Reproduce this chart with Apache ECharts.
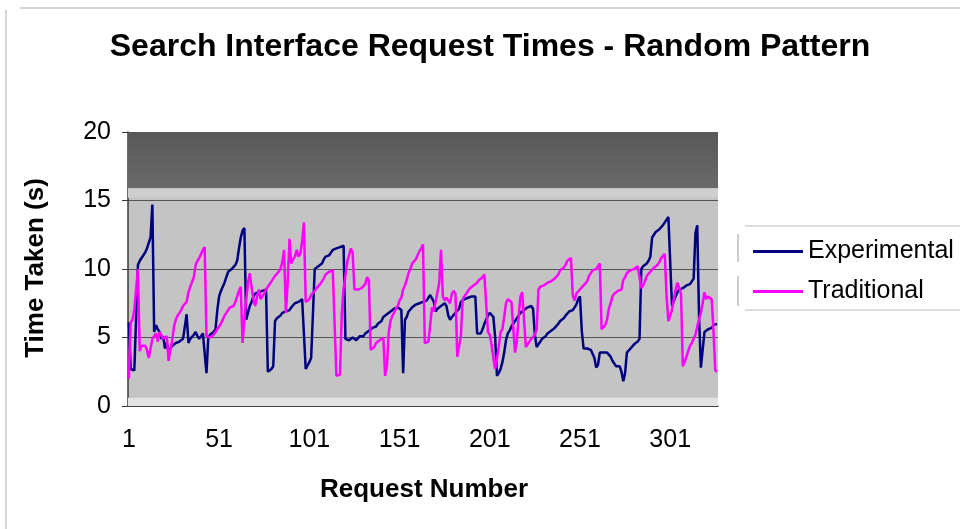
<!DOCTYPE html>
<html>
<head>
<meta charset="utf-8">
<script src="https://cdn.jsdelivr.net/npm/echarts@6/dist/echarts.min.js"></script>
<style>
html,body{margin:0;padding:0;background:#fff;}
#chart{width:960px;height:529px;}
</style>
</head>
<body>
<div id="chart"></div>
<script>
// Experimental request times (s), request 1..327
const experimental = [
6.1,2.7,2.6,2.6,2.7,10.3,10.6,10.8,11.0,11.2,
11.5,11.9,12.3,14.7,5.4,5.9,5.6,5.4,4.9,5.1,
4.2,4.6,3.9,4.2,4.4,4.5,4.6,4.7,4.7,4.8,
4.9,5.0,6.7,4.6,4.9,5.0,5.2,5.4,5.1,4.9,
5.1,5.3,5.4,2.4,5.0,5.2,5.3,5.4,5.6,7.0,
8.0,8.4,8.7,9.0,9.4,9.8,9.9,10.0,10.1,10.3,
10.6,11.5,12.3,12.8,13.0,6.3,6.8,7.3,7.6,8.0,
8.2,8.3,8.3,8.4,8.4,8.5,8.5,2.5,2.5,2.7,
2.9,6.2,6.4,6.5,6.6,6.8,6.9,6.9,7.0,7.0,
7.2,7.3,7.5,7.5,7.6,7.6,7.8,7.8,2.7,2.7,
3.2,3.5,3.6,10.0,10.1,10.2,10.3,10.4,10.7,10.9,
11.0,11.0,11.2,11.4,11.4,11.5,11.5,11.6,11.6,11.7,
4.9,4.8,4.8,4.9,5.0,5.1,4.8,4.9,5.1,5.1,
5.1,5.3,5.4,5.5,5.6,5.7,5.8,5.8,6.0,6.1,
6.2,6.5,6.6,6.7,6.8,6.9,7.0,7.1,7.2,7.2,
7.1,7.0,2.4,6.3,6.5,6.9,7.0,7.2,7.3,7.4,
7.5,7.5,7.6,7.6,7.7,7.7,7.9,8.1,8.2,7.6,
6.9,7.1,7.2,7.3,7.4,7.5,7.3,6.6,6.3,6.5,
6.6,6.8,6.9,7.1,7.6,7.7,7.8,7.9,7.9,8.0,
8.0,8.0,8.0,5.3,5.2,5.3,5.6,6.0,6.3,6.6,
6.8,6.7,6.5,5.0,2.2,2.4,2.7,3.2,3.9,4.8,
5.3,5.5,5.8,6.0,6.2,6.4,6.6,6.8,6.9,7.0,
7.1,7.2,7.2,7.3,7.1,5.2,4.3,4.4,4.7,4.9,
5.0,5.1,5.3,5.4,5.5,5.6,5.7,5.8,6.0,6.2,
6.3,6.4,6.6,6.7,6.9,6.9,7.0,7.1,7.4,7.8,
8.0,5.5,4.2,4.1,4.2,4.3,4.1,4.1,3.5,2.8,
3.0,3.9,3.8,3.9,3.9,3.9,3.8,3.6,3.3,3.4,
2.9,2.9,2.9,2.5,1.8,2.4,3.9,4.0,4.2,4.3,
4.5,4.6,4.7,4.9,10.0,10.2,10.3,10.4,10.6,10.9,
12.3,12.5,12.7,12.8,12.9,13.0,13.2,13.3,13.6,13.8,
13.9,7.3,7.4,8.0,8.3,8.5,8.6,8.6,8.7,8.8,
8.8,8.9,9.0,9.3,12.6,13.2,6.5,2.8,2.8,5.4,
5.5,5.6,5.7,5.7,5.9,6.0,6.0
];
// Traditional request times (s), request 1..327
const traditional = [
2.0,6.1,6.3,7.0,8.5,10.0,4.0,4.4,4.3,4.4,
4.1,3.5,4.2,4.9,5.1,5.3,4.7,5.4,5.5,4.9,
5.0,5.1,3.3,3.4,4.8,5.8,6.3,6.6,6.8,7.0,
7.3,7.4,7.6,8.3,8.7,8.8,9.4,10.3,10.6,10.8,
11.1,11.4,11.6,5.1,5.1,5.0,5.1,5.2,5.3,5.6,
5.8,6.0,6.3,6.6,6.8,7.0,7.2,7.3,7.3,7.6,
8.0,8.4,8.7,4.6,6.3,7.7,9.0,9.7,8.7,7.8,
7.3,8.0,8.5,7.8,8.0,8.2,8.5,8.7,8.9,9.1,
9.3,9.5,9.6,9.8,10.0,10.5,11.4,6.8,9.0,12.2,
10.4,10.7,10.9,11.4,10.9,11.1,12.0,13.4,7.6,7.7,
7.8,8.1,8.2,8.4,8.6,8.7,8.9,9.1,9.3,9.6,
9.7,9.8,9.9,9.9,10.0,2.2,2.2,2.3,6.8,8.6,
9.5,10.5,11.0,11.5,11.2,8.5,8.5,8.5,8.5,8.6,
8.6,8.9,9.4,9.2,4.1,4.1,4.3,4.6,4.7,4.8,
4.9,5.0,2.2,2.9,5.4,6.2,6.6,6.8,7.1,7.3,
7.7,7.9,8.5,8.8,9.2,9.7,10.0,10.4,10.5,10.7,
11.0,11.3,11.5,11.8,4.6,4.6,4.7,5.9,7.2,6.9,
7.6,8.3,9.0,11.4,8.0,7.7,7.9,7.7,7.5,8.2,
8.4,8.2,3.6,3.5,5.1,7.8,8.0,8.2,8.4,8.6,
8.7,8.8,8.9,9.0,9.2,9.3,9.4,9.6,9.7,5.4,
5.2,4.5,3.5,2.7,2.8,4.3,5.4,5.6,6.5,7.5,
7.8,7.7,7.6,7.5,3.9,4.7,6.5,8.0,8.3,8.3,
4.3,4.2,4.7,4.9,5.0,5.2,5.6,8.5,8.7,8.8,
8.8,8.9,9.0,9.0,9.1,9.2,9.3,9.4,9.6,9.9,
10.0,10.1,10.3,10.6,10.7,10.8,8.1,7.7,8.2,8.3,
8.5,8.6,8.8,8.9,9.1,9.5,9.7,9.9,10.0,10.0,
10.1,10.4,5.6,5.7,5.9,6.3,7.1,7.5,8.0,8.2,
8.3,8.4,8.4,8.5,9.2,9.4,9.7,9.8,9.9,9.9,
10.0,10.1,10.2,10.2,8.6,8.8,9.1,9.5,9.6,9.8,
9.9,10.1,10.2,10.3,10.5,10.8,10.9,11.1,8.0,6.2,
6.3,7.0,7.8,8.5,9.0,9.1,8.2,2.9,3.2,3.6,
4.0,4.4,4.6,4.9,5.2,5.8,6.3,6.8,7.5,8.3,
7.8,8.0,7.9,7.8,5.5,2.6,2.5
];
const categories = experimental.map((_, i) => String(i + 1));
const tickLabels = ['1', '51', '101', '151', '201', '251', '301'];
const yTicks = [0, 5, 10, 15, 20];
const seriesNames = ['Experimental', 'Traditional'];

const FONT = "'Liberation Sans', Arial, Helvetica, sans-serif";
const chart = echarts.init(document.getElementById('chart'), null, {renderer: 'canvas'});

const option = {
  animation: false,
  backgroundColor: '#ffffff',
  textStyle: {fontFamily: FONT},
  grid: {
    left: 128, top: 132, width: 590, height: 274,
    show: true, backgroundColor: '#c4c4c4', borderWidth: 0
  },
  legend: {
    orient: 'vertical',
    left: 748, top: 234,
    itemWidth: 50, itemHeight: 3,
    itemGap: 15,
    icon: 'rect',
    data: seriesNames,
    textStyle: {fontFamily: FONT, fontSize: 25, color: '#000', lineHeight: 25}
  },
  xAxis: {
    type: 'category',
    data: categories,
    boundaryGap: true,
    axisLine: {show: true, lineStyle: {color: '#3a3a3a', width: 1.5}},
    axisTick: {show: false},
    axisLabel: {
      interval: (idx, val) => tickLabels.includes(val),
      fontFamily: FONT, fontSize: 25, color: '#000', margin: 22
    },
    splitLine: {show: false}
  },
  yAxis: {
    type: 'value',
    min: yTicks[0], max: yTicks[yTicks.length - 1], interval: 5,
    axisLine: {show: true, lineStyle: {color: '#3a3a3a', width: 1.5}},
    axisTick: {show: true, length: 6, lineStyle: {color: '#3a3a3a'}},
    axisLabel: {fontFamily: FONT, fontSize: 25, color: '#000', margin: 17},
    splitLine: {show: true, lineStyle: {color: '#555555', width: 1}}
  },
  graphic: [
    {type: 'line', shape: {x1: 20, y1: 8, x2: 960, y2: 8}, style: {stroke: '#d4d4d4', lineWidth: 2}},
    {type: 'line', shape: {x1: 6, y1: 10, x2: 6, y2: 529}, style: {stroke: '#d4d4d4', lineWidth: 2}},
    {type: 'line', shape: {x1: 738, y1: 234, x2: 738, y2: 262}, style: {stroke: '#9a9a9a', lineWidth: 1}},
    {type: 'line', shape: {x1: 738, y1: 276, x2: 738, y2: 306}, style: {stroke: '#9a9a9a', lineWidth: 1}},
    {type: 'line', shape: {x1: 745, y1: 226, x2: 960, y2: 226}, style: {stroke: '#dddddd', lineWidth: 2}},
    {type: 'line', shape: {x1: 745, y1: 310, x2: 960, y2: 310}, style: {stroke: '#dddddd', lineWidth: 2}},
    {type: 'text', x: 490, y: 47, style: {text: 'Search Interface Request Times - Random Pattern', font: 'bold 32px ' + FONT, fill: '#000', textAlign: 'center', textVerticalAlign: 'middle'}},
    {type: 'text', x: 36, y: 268, rotation: Math.PI / 2, style: {text: 'Time Taken (s)', font: 'bold 26px ' + FONT, fill: '#000', textAlign: 'center', textVerticalAlign: 'middle'}},
    {type: 'text', x: 424, y: 490, style: {text: 'Request Number', font: 'bold 26px ' + FONT, fill: '#000', textAlign: 'center', textVerticalAlign: 'middle'}}
  ],
  series: [
    {
      name: 'bands', type: 'line', data: [], silent: true, z: 1,
      markArea: {
        silent: true,
        data: [
          [{yAxis: 15.9, itemStyle: {color: {type: 'linear', x: 0, y: 0, x2: 0, y2: 1, colorStops: [{offset: 0, color: '#585858'}, {offset: 1, color: '#6a6a6a'}]}}}, {yAxis: 20}],
          [{yAxis: 15.2, itemStyle: {color: '#cfcfcf'}}, {yAxis: 15.9}],
          [{yAxis: 0, itemStyle: {color: '#e2e2e2'}}, {yAxis: 0.6}]
        ]
      }
    },
    {
      name: seriesNames[0], type: 'line', data: experimental, symbol: 'none', z: 3,
      lineStyle: {color: '#000080', width: 2.5}, itemStyle: {color: '#000080'}
    },
    {
      name: seriesNames[1], type: 'line', data: traditional, symbol: 'none', z: 4,
      lineStyle: {color: '#ff00ff', width: 2.5}, itemStyle: {color: '#ff00ff'}
    }
  ]
};
chart.setOption(option);
</script>
</body>
</html>
